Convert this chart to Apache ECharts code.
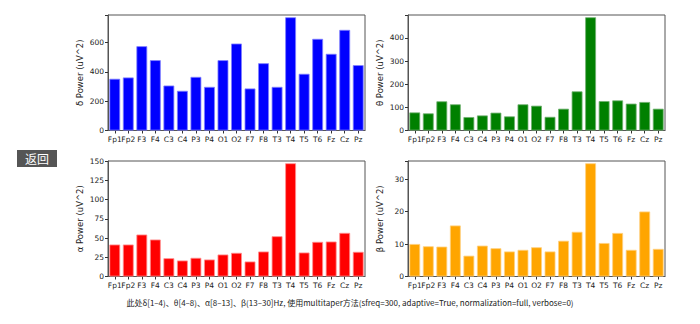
<!DOCTYPE html>
<html>
<head>
<meta charset="utf-8">
<script src="https://cdn.jsdelivr.net/npm/echarts@6/dist/echarts.min.js"></script>
<style>
  html, body { margin: 0; padding: 0; background: #fff; }
  #chart { width: 700px; height: 324px; }
</style>
</head>
<body>
<div id="chart"></div>
<script>
// EEG channels (10-20 system)
const channels = ['Fp1','Fp2','F3','F4','C3','C4','P3','P4','O1','O2','F7','F8','T3','T4','T5','T6','Fz','Cz','Pz'];

// Band power per channel, uV^2
const deltaPower = [352, 361, 574, 479, 306, 270, 365, 297, 479, 592, 286, 458, 297, 771, 386, 624, 522, 685, 445];
const thetaPower = [78, 74, 126, 113, 58, 65, 77, 61, 113, 107, 59, 94, 169, 489, 127, 130, 116, 123, 94];
const alphaPower = [41.6, 41.6, 54.6, 48.1, 23.8, 20.8, 24.3, 22.1, 28.6, 30.8, 19.5, 32.5, 52.4, 147.4, 31.2, 45.1, 45.5, 56.8, 32.1];
const betaPower  = [10.0, 9.3, 9.2, 15.7, 6.4, 9.5, 8.7, 7.7, 8.2, 9.0, 7.7, 11.0, 13.75, 34.85, 10.3, 13.4, 8.2, 20.0, 8.5];

// y-axis labels and tick spacing per band
const axisNames = ['δ Power (uV^2)', 'θ Power (uV^2)', 'α Power (uV^2)', 'β Power (uV^2)'];
const tickSteps = [200, 100, 25, 10];

const caption = '此处δ[1–4)、θ[4–8)、α[8–13]、β(13–30]Hz, 使用multitaper方法(sfreq=300, adaptive=True, normalization=full, verbose=0)';
const buttonText = '返回';

const bands = [
  { data: deltaPower, color: '#0000ff', edge: '#8080ff', top: 15,  left: 108 },
  { data: thetaPower, color: '#008000', edge: '#70b070', top: 15,  left: 408 },
  { data: alphaPower, color: '#ff0000', edge: '#ff9090', top: 161, left: 108 },
  { data: betaPower,  color: '#ffa500', edge: '#ffd080', top: 161, left: 408 }
];

const font = 'DejaVu Sans';
const tickColor = '#222';
const frameColor = '#555';

const grids = [], xAxes = [], yAxes = [], series = [];
bands.forEach((b, i) => {
  const peak = Math.max.apply(null, b.data);
  grids.push({
    left: b.left, top: b.top, width: 257, height: 115.5,
    show: true, borderColor: frameColor, borderWidth: 1, backgroundColor: 'transparent'
  });
  xAxes.push({
    type: 'category', gridIndex: i, data: channels,
    axisLine: { show: true, lineStyle: { color: frameColor, width: 1 } },
    axisTick: { show: true, alignWithLabel: true, length: 3, lineStyle: { color: '#333' } },
    axisLabel: { interval: 0, color: tickColor, fontFamily: font, fontSize: 7.5, margin: 5 }
  });
  const step = tickSteps[i];
  yAxes.push({
    type: 'value', gridIndex: i, min: 0, max: +(peak * 1.02).toFixed(2), interval: step,
    name: axisNames[i], nameLocation: 'middle', nameRotate: 90, nameGap: 24,
    nameTextStyle: { color: tickColor, fontFamily: font, fontSize: 8.5 },
    axisLine: { show: true, lineStyle: { color: frameColor, width: 1 } },
    axisTick: { show: true, length: 3, lineStyle: { color: '#333' } },
    axisLabel: {
      color: tickColor, fontFamily: font, fontSize: 7.5, margin: 4,
      formatter: v => (Math.abs(v / step - Math.round(v / step)) < 1e-6 ? String(v) : '')
    },
    splitLine: { show: false }
  });
  series.push({
    type: 'bar', xAxisIndex: i, yAxisIndex: i, data: b.data,
    barCategoryGap: '20%',
    itemStyle: { color: b.color, borderColor: b.edge, borderWidth: 0.8 },
    animation: false, silent: true
  });
});

const chart = echarts.init(document.getElementById('chart'), null, { renderer: 'svg' });
chart.setOption({
  animation: false,
  grid: grids, xAxis: xAxes, yAxis: yAxes, series: series,
  graphic: [
    {
      type: 'group', left: 17, top: 150,
      children: [
        { type: 'rect', shape: { x: 0, y: 0, width: 40, height: 17 }, style: { fill: '#555' } },
        { type: 'text', x: 20, y: 8.5, style: { text: buttonText, fill: '#fff', font: '12px "Noto Sans CJK SC"', textAlign: 'center', textVerticalAlign: 'middle' } }
      ]
    },
    {
      type: 'text', left: 'center', top: 298,
      style: { text: caption, fill: '#222', font: '8px "Noto Sans CJK SC"' }
    }
  ]
});
</script>
</body>
</html>
